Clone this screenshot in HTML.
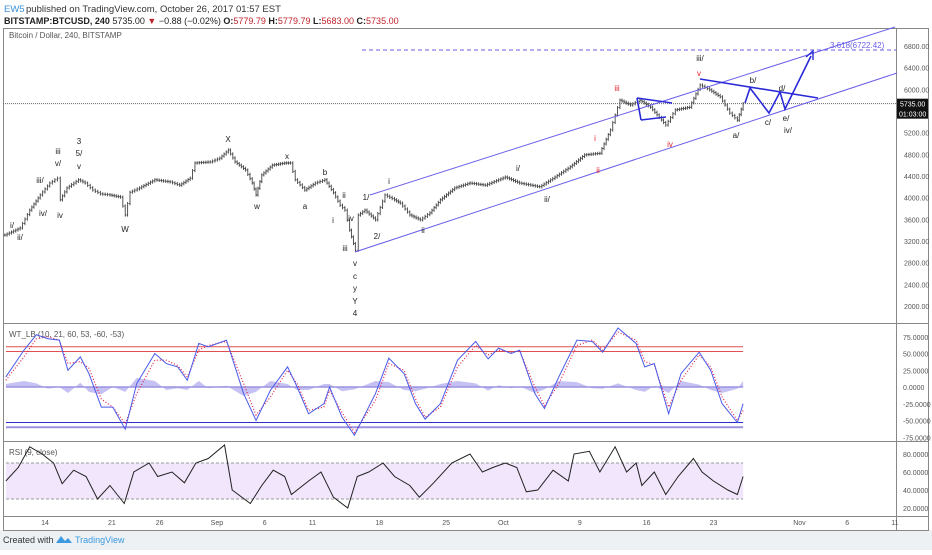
<!DOCTYPE html>
<html><head><meta charset="utf-8"><style>
body{margin:0;width:932px;height:550px;overflow:hidden;background:#fff;font-family:"Liberation Sans",sans-serif}
svg text{font-family:"Liberation Sans",sans-serif}
</style></head><body>
<svg id="c" width="932" height="550" xmlns="http://www.w3.org/2000/svg">
<rect x="0" y="0" width="932" height="550" fill="#fff"/>
<rect x="0" y="530" width="932" height="20" fill="#edf1f4"/>
<text x="4" y="12" font-size="9.5" fill="#3a8fd8">EW5</text>
<text x="26" y="12" font-size="9.5" fill="#333">published on TradingView.com, October 26, 2017 01:57 EST</text>
<text x="4" y="24" font-size="9" fill="#222"><tspan font-weight="bold">BITSTAMP:BTCUSD, 240</tspan> 5735.00 <tspan fill="#c0242c">▼</tspan> −0.88 (−0.02%) <tspan font-weight="bold">O:</tspan><tspan fill="#c0242c">5779.79</tspan> <tspan font-weight="bold">H:</tspan><tspan fill="#c0242c">5779.79</tspan> <tspan font-weight="bold">L:</tspan><tspan fill="#c0242c">5683.00</tspan> <tspan font-weight="bold">C:</tspan><tspan fill="#c0242c">5735.00</tspan></text>
<g stroke="#888" stroke-width="1" fill="none">
<path d="M3.5 28.5H928.5V530.5H3.5Z"/>
<line x1="896.5" y1="28" x2="896.5" y2="530"/>
<line x1="3" y1="323.5" x2="928" y2="323.5"/>
<line x1="3" y1="441.5" x2="928" y2="441.5"/>
<line x1="3" y1="516.5" x2="928" y2="516.5"/>
</g>
<text x="9" y="38" font-size="8" fill="#555">Bitcoin / Dollar, 240, BITSTAMP</text>
<text x="9" y="337" font-size="8" fill="#555">WT_LB (10, 21, 60, 53, -60, -53)</text>
<text x="9" y="455" font-size="8" fill="#555">RSI (9, close)</text>
<g id="g-main"></g><g id="g-wt"></g><g id="g-rsi"></g><g id="g-axes"></g>
<g stroke="#6a5ee8" stroke-width="1" fill="none">
<line x1="355" y1="252" x2="897" y2="73"/>
<line x1="370" y1="195" x2="895" y2="27"/>
<line x1="362" y1="50" x2="896" y2="50" stroke-dasharray="4,3"/>
</g>
<text x="830" y="48" font-size="8" fill="#6a5ee8">3.618(6722.42)</text>
<g stroke="#2a2ad8" stroke-width="1.6" fill="none">
<line x1="700" y1="79" x2="818" y2="98"/>
<line x1="637" y1="98" x2="672" y2="103"/>
<line x1="641" y1="120" x2="666" y2="117"/>
<line x1="637" y1="98" x2="641" y2="120"/>
<polyline points="745,103 750,88 769,113 780,92 785,109 811,56"/>
<path d="M806 57 L813 51 L813 60" stroke-width="1.4"/>
</g>
<g font-size="8" fill="#222" text-anchor="middle">
<text x="79" y="144">3</text><text x="79" y="156">5/</text><text x="79" y="169">v</text>
<text x="58" y="154">iii</text><text x="58" y="166">v/</text><text x="40" y="183">iii/</text>
<text x="43" y="216">iv/</text><text x="60" y="218">iv</text><text x="20" y="240">ii/</text><text x="12" y="228">i/</text>
<text x="125" y="232">W</text><text x="228" y="142">X</text><text x="287" y="159">x</text><text x="257" y="209">w</text>
<text x="325" y="175">b</text><text x="305" y="209">a</text><text x="344" y="198">ii</text><text x="333" y="223">i</text>
<text x="351" y="221">iv</text><text x="345" y="251">iii</text><text x="355" y="266">v</text><text x="355" y="279">c</text>
<text x="355" y="291">y</text><text x="355" y="304">Y</text><text x="355" y="316">4</text>
<text x="366" y="200">1/</text><text x="389" y="184">i</text><text x="377" y="239">2/</text>
<text x="423" y="233">ii</text><text x="518" y="171">i/</text><text x="547" y="202">ii/</text>
<text x="700" y="61">iii/</text><text x="753" y="83">b/</text><text x="782" y="91">d/</text><text x="768" y="125">c/</text>
<text x="786" y="121">e/</text><text x="788" y="133">iv/</text><text x="736" y="138">a/</text>
</g>
<g font-size="8" fill="#e0202a" text-anchor="middle">
<text x="595" y="141">i</text><text x="598" y="173">ii</text><text x="617" y="91">iii</text><text x="670" y="147">iv</text><text x="699" y="76">v</text>
</g>
<text x="3" y="543" font-size="9" fill="#333">Created with</text>
<path d="M56 543 l5 -7 l4 5 l3 -3 l4 5z" fill="#3b9ae0"/>
<text x="75" y="543" font-size="9" fill="#3b9ae0">TradingView</text>
</svg>
<script>
const priceDays=[-4.2,-2.6,-1.6,-0.5,0.5,1.3,1.6,2.3,3.5,4.2,5.0,5.8,6.8,7.9,8.4,8.9,9.9,11.5,13.1,14.1,15.2,15.7,17.3,18.3,19.2,19.9,21.0,21.7,22.1,22.7,23.8,25.1,25.7,26.2,27.2,28.3,29.3,30.2,30.9,31.4,31.9,32.5,32.8,33.5,34.6,35.6,36.6,37.2,38.2,39.3,40.3,41.4,42.9,44.5,46.1,48.2,49.7,51.8,53.4,55.0,56.5,58.1,59.2,60.2,61.3,62.3,63.4,65.0,66.0,67.5,68.6,69.6,70.7,71.7,72.5,73.1];
const closes=[3310,3440,3770,4050,4270,4360,3960,4180,4330,4270,4140,4070,4050,4010,3680,4100,4180,4330,4290,4230,4360,4640,4660,4730,4880,4660,4510,4270,4050,4420,4600,4640,4640,4330,4140,4270,4330,4090,3860,3770,3400,3030,3680,3770,3590,4050,3960,3900,3680,3590,3720,3960,4180,4270,4230,4380,4270,4200,4380,4570,4790,4820,5250,5800,5710,5800,5670,5340,5620,5670,6080,5990,5860,5560,5430,5735];
const lastPrice=5735;
const priceTicks=[2000,2400,2800,3200,3600,4000,4400,4800,5200,6000,6400,6800];
const wtDays=[-4.1,-2.2,-0.9,0.3,1.5,2.4,3.7,4.6,5.9,7.1,8.4,9.6,11.5,12.7,13.9,14.9,16.1,17.1,19.0,20.8,22.1,23.6,25.4,26.4,27.6,29.2,29.8,31.1,32.4,34.6,36.0,37.6,38.8,39.8,41.4,43.2,45.1,46.4,47.5,48.8,49.7,51.3,52.3,53.8,55.7,57.3,58.4,60.0,61.9,62.8,63.8,65.3,66.6,68.5,69.7,70.9,72.5,73.1];
const wt1=[15,55,78,72,70,25,45,20,-30,-30,-63,5,50,35,30,10,65,60,70,-10,-50,-5,30,0,-40,-25,0,-45,-72,-10,43,20,-25,-48,-25,40,68,42,58,50,55,-10,-32,15,70,68,52,88,65,30,35,-40,20,52,25,-25,-53,-25];
const wt2=[10,45,72,75,70,35,38,28,-18,-30,-55,-10,40,40,32,15,55,62,68,5,-42,-15,25,5,-35,-30,-5,-38,-68,-20,35,25,-18,-45,-30,30,62,48,55,52,54,0,-28,5,62,70,55,82,70,38,33,-30,10,48,30,-15,-50,-35];
const wtTicks=[75,50,25,0,-25,-50,-75];
const rsiDays=[-4.1,-2.8,-1.6,-0.3,0.9,1.8,3.0,4.3,5.5,6.8,8.3,9.3,10.9,11.8,13.3,14.6,15.8,17.1,18.8,19.6,21.5,22.7,23.9,25.1,25.8,27.6,28.9,30.2,31.7,32.7,33.9,35.4,36.6,38.2,39.2,40.7,42.6,44.5,45.8,46.9,48.2,49.4,50.4,51.6,53.2,54.8,55.4,57.0,58.1,59.7,60.9,61.9,62.5,63.8,65.0,66.3,67.9,68.8,70.0,71.5,72.5,73.1];
const rsi=[50,65,88,80,70,47,62,55,30,45,25,60,70,55,60,48,70,75,90,40,25,45,62,55,35,50,60,32,20,55,60,70,55,45,32,48,70,80,60,65,70,65,38,40,62,50,80,83,60,88,60,70,45,60,35,55,75,60,50,40,35,55];
const rsiTicks=[80,60,40,20];
const dateLabels=["14","21","26","Sep","6","11","18","25","Oct","9","16","23","Nov","6","11"];
const dateDays=[0,7,12,18,23,28,35,42,48,56,63,70,79,84,89];

const NS="http://www.w3.org/2000/svg";
const xOf=d=>45+d*9.55;
const yP=p=>306-(p-2000)*0.05417;
const yW=v=>387-v*0.67;
const yR=v=>508-(v-20)*0.9;
function mk(tag,attrs,parent){const e=document.createElementNS(NS,tag);for(const k in attrs)e.setAttribute(k,attrs[k]);parent.appendChild(e);return e;}
const gm=document.getElementById('g-main'),gw=document.getElementById('g-wt'),gr=document.getElementById('g-rsi'),ga=document.getElementById('g-axes');

let pl=mk('line',{x1:3,x2:896,y1:yP(lastPrice),y2:yP(lastPrice),stroke:'#666','stroke-dasharray':'1,1'},gm);


for(let i=0;i<closes.length;i++){
  const o=i?closes[i-1]:closes[i],c=closes[i];
  const x=xOf(priceDays[i]);
  const g=mk('g',{stroke:'#444','stroke-width':0.9},gm);
  
  
  const x0=i?xOf(priceDays[i-1]):x-3;
  const steps=Math.max(1,Math.round((x-x0)/2.2));
  for(let s=1;s<=steps;s++){
    const f0=(s-1)/steps,f1=s/steps;
    const a=o+(c-o)*f0,b=o+(c-o)*f1;
    const bx=x0+(x-x0)*f1;
    const h=Math.max(a,b)+30,l=Math.min(a,b)-30;
    mk('line',{x1:bx,x2:bx,y1:yP(h),y2:yP(l)},g);
    mk('line',{x1:bx-1,x2:bx,y1:yP(a),y2:yP(a)},g);
    mk('line',{x1:bx,x2:bx+1,y1:yP(b),y2:yP(b)},g);
  }
}
priceTicks.forEach(p=>{const t=mk('text',{x:904,y:yP(p)+3,'font-size':7,fill:'#555'},ga);t.textContent=p.toFixed(2);

});
let tag=mk('rect',{x:897,y:yP(lastPrice)-5,width:31,height:20,fill:'#111'},ga);


let t1=mk('text',{x:900,y:yP(lastPrice)+3,'font-size':7,fill:'#fff'},ga);t1.textContent=lastPrice.toFixed(2);
let t2=mk('text',{x:899,y:yP(lastPrice)+13,'font-size':7,fill:'#fff'},ga);t2.textContent='01:03:00';

const xEnd=xOf(73.1),xStart=6;
[[60,'#e05050'],[53,'#e05050'],[-53,'#3030d0'],[-60,'#9a92e0']].forEach(([v,c],i)=>{
  const l=mk('line',{x1:xStart,x2:xEnd,y1:yW(v),y2:yW(v),stroke:c,'stroke-width':i==3?2:1},gw);
  
  
});
let hist='M'+xOf(wtDays[0])+' '+yW(0);
wtDays.forEach((d,i)=>{hist+=' L'+xOf(d)+' '+yW((wt1[i]-wt2[i])*0.9);});
hist+=' L'+xOf(wtDays[wtDays.length-1])+' '+yW(0)+'Z';
let hp=mk('path',{d:hist,fill:'#b8b2f0',opacity:0.8},gw);


let zl=mk('line',{x1:xStart,x2:xEnd,y1:yW(0),y2:yW(0),stroke:'#9a92e0','stroke-width':1.5},gw);


let w2=mk('polyline',{points:wtDays.map((d,i)=>xOf(d)+','+yW(wt2[i])).join(' '),fill:'none',stroke:'#e0204a','stroke-width':1.2,'stroke-dasharray':'1,2'},gw);


let w1=mk('polyline',{points:wtDays.map((d,i)=>xOf(d)+','+yW(wt1[i])).join(' '),fill:'none',stroke:'#4a5ae8','stroke-width':1},gw);


wtTicks.forEach(v=>{const t=mk('text',{x:903,y:yW(v)+3,'font-size':7,fill:'#555'},ga);t.textContent=v.toFixed(4);

});

let band=mk('rect',{x:xStart,y:yR(70),width:xEnd-xStart,height:yR(30)-yR(70),fill:'#f1e6fb'},gr);


[70,30].forEach(v=>{const l=mk('line',{x1:xStart,x2:xEnd,y1:yR(v),y2:yR(v),stroke:'#999','stroke-dasharray':'3,2'},gr);

});
let rl=mk('polyline',{points:rsiDays.map((d,i)=>xOf(d)+','+yR(rsi[i])).join(' '),fill:'none',stroke:'#222','stroke-width':1},gr);


rsiTicks.forEach(v=>{const t=mk('text',{x:903,y:yR(v)+3,'font-size':7,fill:'#555'},ga);t.textContent=v.toFixed(4);

});

dateLabels.forEach((s,i)=>{const t=mk('text',{x:xOf(dateDays[i]),y:525,'font-size':7,fill:'#555','text-anchor':'middle'},ga);t.textContent=s;

});
</script>
</body></html>
